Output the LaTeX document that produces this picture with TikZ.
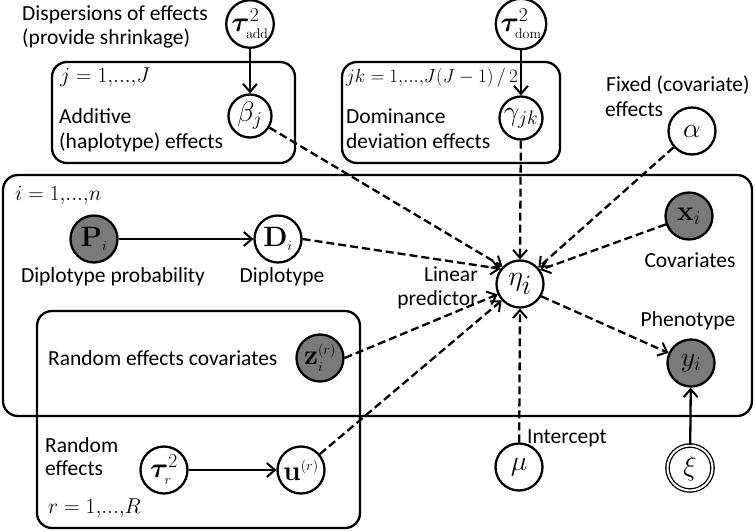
\RequirePackage{fix-cm}
\documentclass[tikz,border=0pt]{standalone}
\usepackage{amsmath,bm}
\usepackage[no-math]{fontspec}
\setmainfont{Carlito}
\usetikzlibrary{arrows.meta}
\tikzset{
  nd/.style={circle, draw, line width=2.3pt, minimum size=47pt, inner sep=0pt, fill=white,
    font=\fontsize{28}{32}\selectfont},
  ndsmall/.style={nd, minimum size=43pt},
  obs/.style={nd, fill=black!52},
  plate/.style={draw, line width=2.3pt, rounded corners=15pt},
  lbl/.style={font=\fontsize{21.5}{25}\selectfont, inner sep=0pt},
  tip/.style={-{Straight Barb[length=8pt,width=14pt,line width=2pt]}},
  dep/.style={line width=2.3pt, dash pattern=on 8pt off 4pt, tip},
  sol/.style={line width=2.3pt, tip}
}
\begin{document}
\begin{tikzpicture}[x=1pt,y=-1pt]
\useasboundingbox (0,0) rectangle (756,531);
% plates
\draw[plate] (52,62) rectangle (295,163);
\draw[plate] (342,62) rectangle (560,163);
\draw[plate] (3,175) rectangle (752,416);
\draw[plate] (37,311) rectangle (360,528);
% nodes
\node[nd] (tauadd) at (250,24) {$\bm{\tau}^2_{\scriptscriptstyle\mathrm{add}}$};
\node[ndsmall] (beta) at (250,116) {$\beta_j$};
\node[nd] (taudom) at (521,24) {$\bm{\tau}^2_{\scriptscriptstyle\mathrm{dom}}$};
\node[ndsmall] (gamma) at (521,118) {$\gamma_{jk}$};
\node[nd] (alpha) at (692,131) {$\alpha$};
\node[obs] (P) at (94,239) {$\mathbf{P}_{\scriptscriptstyle i}$};
\node[nd] (D) at (278,239) {$\mathbf{D}_{\scriptscriptstyle i}$};
\node[nd] (eta) at (520,284) {$\eta_{\textstyle i}$};
\node[obs] (x) at (689,216) {$\mathbf{x}_i$};
\node[obs] (z) at (320,358) {$\mathbf{z}_{\scriptscriptstyle i}^{\scriptscriptstyle(r)}$};
\node[obs] (y) at (691,363) {$y_i$};
\node[nd] (taur) at (164,470) {$\bm{\tau}_{\scriptscriptstyle r}^2$};
\node[nd] (u) at (301,470) {$\mathbf{u}^{\scriptscriptstyle(r)}$};
\node[nd] (mu) at (519,467) {$\mu$};
\node[nd, line width=1.3pt, double, double distance=2pt, minimum size=45pt] (xi) at (690,468) {$\xi$};
% edges
\draw[sol] (tauadd) -- (beta);
\draw[sol] (taudom) -- (gamma);
\draw[sol] (P) -- (D);
\draw[sol] (taur) -- (u);
\draw[sol] (xi) -- (y);
\draw[dep] (beta) -- (eta.135);
\draw[dep] (gamma) -- (eta.north);
\draw[dep] (alpha) -- (eta.42);
\draw[dep] (x) -- (eta.35);
\draw[dep] (D.east) -- (eta.142);
\draw[dep] (z.east) -- (eta.205);
\draw[dep] (u) -- (eta.222);
\draw[dep] (mu) -- (eta.south);
\draw[dep] (eta.-30) -- (y);
% texts
\node[lbl, anchor=base west] (t1) at (22,20) {Dispersions of effects};
\node[lbl, anchor=base west] (t2) at (22,44) {(provide shrinkage)};
\node[lbl, anchor=base west] (t3) at (60,82) {$j=1{,}...{,}J$};
\node[lbl, anchor=base west] (t4) at (59,123) {Additive};
\node[lbl, anchor=base west] (t5) at (59,148) {(haplotype) effects};
\node[lbl, anchor=base west, font=\fontsize{19}{23}\selectfont] (t6) at (346,82) {$jk=1{,}...{,}J(J-1)\,/\,2$};
\node[lbl, anchor=base west] (t7) at (346,123) {Dominance};
\node[lbl, anchor=base west] (t8) at (346,148) {deviation effects};
\node[lbl, anchor=base west] (t9) at (606,91) {Fixed (covariate)};
\node[lbl, anchor=base west] (t10) at (605,116) {effects};
\node[lbl, anchor=base west] (t11) at (15,200) {$i=1{,}...{,}n$};
\node[lbl, anchor=base] (t12) at (113,282) {Diplotype probability};
\node[lbl, anchor=base] (t13) at (282,282) {Diplotype};
\node[lbl, anchor=base east] (t14) at (478,281) {Linear};
\node[lbl, anchor=base east] (t15) at (478,305) {predictor};
\node[lbl, anchor=base] (t16) at (690,267) {Covariates};
\node[lbl, anchor=base] (t17) at (688,326) {Phenotype};
\node[lbl, anchor=base west] (t18) at (48,365) {Random effects covariates};
\node[lbl, anchor=base west] (t19) at (45,452) {Random};
\node[lbl, anchor=base west] (t20) at (45,475) {effects};
\node[lbl, anchor=base west] (t21) at (48,513) {$r=1{,}...{,}R$};
\node[lbl, anchor=base west] (t22) at (527,443) {Intercept};
\end{tikzpicture}
\end{document}
